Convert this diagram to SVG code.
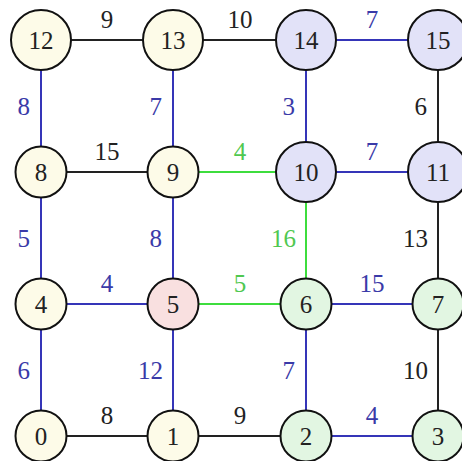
<svg xmlns="http://www.w3.org/2000/svg" width="462" height="461" viewBox="0 0 462 461">
<style>
.n{stroke:#111;stroke-width:2}
.y{fill:#fdfbe8}
.b{fill:#e2e2f8}
.g{fill:#e2f6e2}
.p{fill:#f9e0e0}
text{font-family:"Liberation Serif","DejaVu Serif",serif;font-size:25px}
.t{text-anchor:middle;fill:#222}
.e{stroke-width:2;fill:none}
.k{stroke:#222}
.bl{stroke:#3535b8}
.gr{stroke:#3ddd3d}
.lk{fill:#222}
.lb{fill:#3a3aa8}
.lg{fill:#50c850}
.h{text-anchor:middle}
.v{text-anchor:end}
</style>
<rect width="462" height="461" fill="#fff"/>
<g id="edges">
<line class="e k" x1="41" y1="40" x2="173" y2="40"/>
<line class="e k" x1="173" y1="40" x2="306" y2="40"/>
<line class="e bl" x1="306" y1="40" x2="438" y2="40"/>
<line class="e k" x1="41" y1="172" x2="173" y2="172"/>
<line class="e gr" x1="173" y1="172" x2="306" y2="172"/>
<line class="e bl" x1="306" y1="172" x2="438" y2="172"/>
<line class="e bl" x1="41" y1="304" x2="173" y2="304"/>
<line class="e gr" x1="173" y1="304" x2="306" y2="304"/>
<line class="e bl" x1="306" y1="304" x2="438" y2="304"/>
<line class="e k" x1="41" y1="436" x2="173" y2="436"/>
<line class="e k" x1="173" y1="436" x2="306" y2="436"/>
<line class="e bl" x1="306" y1="436" x2="438" y2="436"/>
<line class="e bl" x1="41" y1="40" x2="41" y2="172"/>
<line class="e bl" x1="173" y1="40" x2="173" y2="172"/>
<line class="e bl" x1="306" y1="40" x2="306" y2="172"/>
<line class="e k" x1="438" y1="40" x2="438" y2="172"/>
<line class="e bl" x1="41" y1="172" x2="41" y2="304"/>
<line class="e bl" x1="173" y1="172" x2="173" y2="304"/>
<line class="e gr" x1="306" y1="172" x2="306" y2="304"/>
<line class="e k" x1="438" y1="172" x2="438" y2="304"/>
<line class="e bl" x1="41" y1="304" x2="41" y2="436"/>
<line class="e bl" x1="173" y1="304" x2="173" y2="436"/>
<line class="e bl" x1="306" y1="304" x2="306" y2="436"/>
<line class="e k" x1="438" y1="304" x2="438" y2="436"/>
<text class="h lk" x="107" y="28">9</text>
<text class="h lk" x="240" y="28">10</text>
<text class="h lb" x="372" y="28">7</text>
<text class="h lk" x="107" y="160">15</text>
<text class="h lg" x="240" y="160">4</text>
<text class="h lb" x="372" y="160">7</text>
<text class="h lb" x="107" y="292">4</text>
<text class="h lg" x="240" y="292">5</text>
<text class="h lb" x="372" y="292">15</text>
<text class="h lk" x="107" y="424">8</text>
<text class="h lk" x="240" y="424">9</text>
<text class="h lb" x="372" y="424">4</text>
<text class="v lb" x="30" y="115">8</text>
<text class="v lb" x="162" y="115">7</text>
<text class="v lb" x="295" y="115">3</text>
<text class="v lk" x="427" y="115">6</text>
<text class="v lb" x="30" y="247">5</text>
<text class="v lb" x="162" y="247">8</text>
<text class="v lg" x="296" y="247">16</text>
<text class="v lk" x="428" y="247">13</text>
<text class="v lb" x="30" y="379">6</text>
<text class="v lb" x="163" y="379">12</text>
<text class="v lb" x="295" y="379">7</text>
<text class="v lk" x="428" y="379">10</text>
</g>
<g id="n12"><circle class="n y" cx="41" cy="40" r="30"/><text class="t" x="41" y="49">12</text></g>
<g id="n13"><circle class="n y" cx="173" cy="40" r="30"/><text class="t" x="173" y="49">13</text></g>
<g id="n14"><circle class="n b" cx="306" cy="40" r="30"/><text class="t" x="306" y="49">14</text></g>
<g id="n15"><circle class="n b" cx="438" cy="40" r="30"/><text class="t" x="438" y="49">15</text></g>
<g id="n8"><circle class="n y" cx="41" cy="172" r="25.5"/><text class="t" x="41" y="181">8</text></g>
<g id="n9"><circle class="n y" cx="173" cy="172" r="25.5"/><text class="t" x="173" y="181">9</text></g>
<g id="n10"><circle class="n b" cx="306" cy="172" r="30"/><text class="t" x="306" y="181">10</text></g>
<g id="n11"><circle class="n b" cx="438" cy="172" r="30"/><text class="t" x="438" y="181">11</text></g>
<g id="n4"><circle class="n y" cx="41" cy="304" r="25.5"/><text class="t" x="41" y="313">4</text></g>
<g id="n5"><circle class="n p" cx="173" cy="304" r="25.5"/><text class="t" x="173" y="313">5</text></g>
<g id="n6"><circle class="n g" cx="306" cy="304" r="25.5"/><text class="t" x="306" y="313">6</text></g>
<g id="n7"><circle class="n g" cx="438" cy="304" r="25.5"/><text class="t" x="438" y="313">7</text></g>
<g id="n0"><circle class="n y" cx="41" cy="436" r="25.5"/><text class="t" x="41" y="445">0</text></g>
<g id="n1"><circle class="n y" cx="173" cy="436" r="25.5"/><text class="t" x="173" y="445">1</text></g>
<g id="n2"><circle class="n g" cx="306" cy="436" r="25.5"/><text class="t" x="306" y="445">2</text></g>
<g id="n3"><circle class="n g" cx="438" cy="436" r="25.5"/><text class="t" x="438" y="445">3</text></g>
</svg>
